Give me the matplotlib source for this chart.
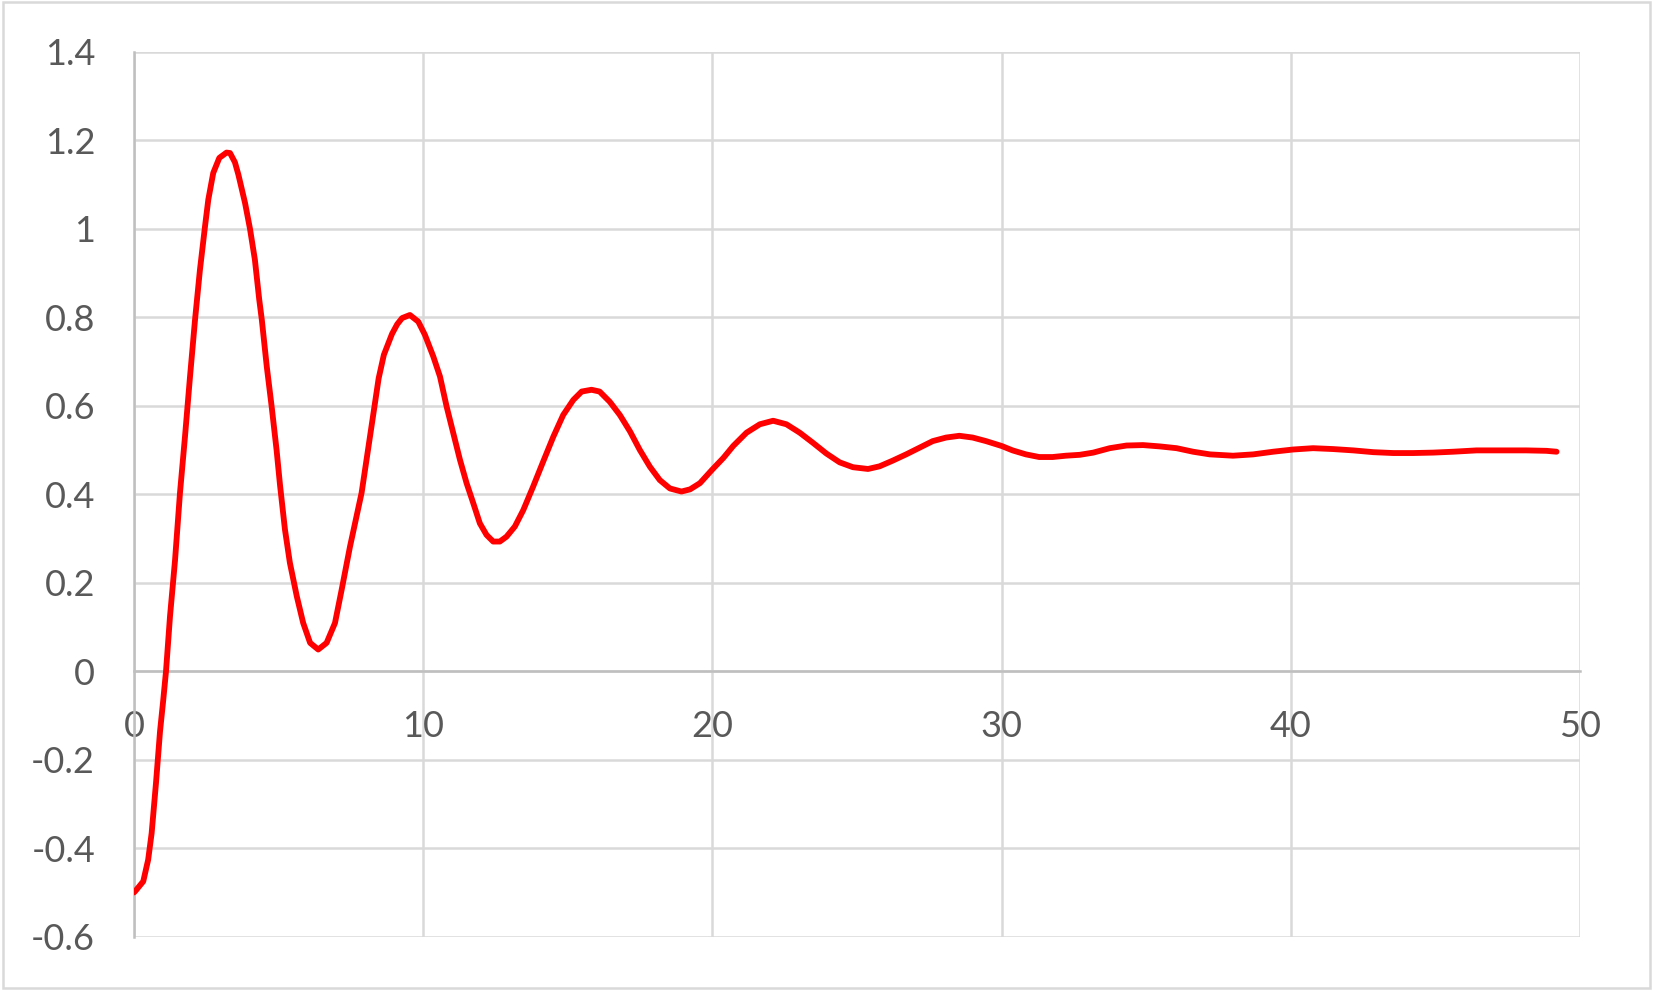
import matplotlib
matplotlib.use("Agg")
import matplotlib.pyplot as plt
from matplotlib.patches import Rectangle

# values
t = [0.00, 0.07, 0.32, 0.49, 0.61, 0.76, 0.90, 1.01, 1.107, 1.245,
     1.418, 1.59, 1.763, 1.936, 2.11, 2.28, 2.455, 2.57, 2.74, 2.95,
     3.20, 3.32, 3.49, 3.61, 3.84, 4.01, 4.18, 4.33, 4.42, 4.59,
     4.76, 4.93, 5.05, 5.22, 5.39, 5.63, 5.85, 6.09, 6.37, 6.66,
     6.95, 7.18, 7.47, 7.87, 8.16, 8.46, 8.64, 8.92, 9.10, 9.27,
     9.54, 9.83, 10.06, 10.35, 10.58, 10.81, 11.04, 11.27, 11.50, 11.73,
     11.96, 12.19, 12.42, 12.65, 12.88, 13.17, 13.46, 13.80, 14.15, 14.50,
     14.84, 15.19, 15.48, 15.82, 16.10, 16.45, 16.80, 17.15, 17.49, 17.84,
     18.18, 18.53, 18.93, 19.23, 19.57, 20.00, 20.38, 20.72, 21.18, 21.64,
     22.10, 22.56, 23.02, 23.48, 23.94, 24.40, 24.86, 25.38, 25.78, 26.24,
     26.70, 27.16, 27.62, 28.08, 28.54, 29.00, 29.46, 30.00, 30.38, 30.84,
     31.30, 31.76, 32.22, 32.70, 33.17, 33.74, 34.32, 34.89, 35.47, 36.05,
     36.62, 37.20, 38.00, 38.70, 39.39, 40.08, 40.77, 41.46, 42.16, 42.85,
     43.54, 44.23, 44.92, 45.61, 46.42, 47.23, 48.15, 48.84, 49.19]
response = [-0.500, -0.495, -0.475, -0.426, -0.366, -0.253, -0.136, -0.066, 0.000, 0.124,
            0.250, 0.403, 0.530, 0.665, 0.794, 0.907, 1.005, 1.066, 1.126, 1.160,
            1.172, 1.171, 1.150, 1.122, 1.058, 1.000, 0.930, 0.840, 0.794, 0.689,
            0.598, 0.500, 0.420, 0.320, 0.245, 0.169, 0.109, 0.064, 0.049, 0.064,
            0.109, 0.184, 0.282, 0.403, 0.530, 0.662, 0.715, 0.762, 0.784, 0.798,
            0.805, 0.790, 0.760, 0.711, 0.666, 0.598, 0.538, 0.478, 0.425, 0.380,
            0.334, 0.308, 0.293, 0.293, 0.304, 0.327, 0.364, 0.417, 0.474, 0.530,
            0.579, 0.613, 0.632, 0.636, 0.632, 0.609, 0.579, 0.542, 0.500, 0.462,
            0.432, 0.413, 0.406, 0.411, 0.425, 0.456, 0.482, 0.509, 0.539, 0.558,
            0.566, 0.558, 0.539, 0.516, 0.492, 0.472, 0.461, 0.457, 0.463, 0.476,
            0.490, 0.505, 0.520, 0.528, 0.532, 0.528, 0.520, 0.509, 0.499, 0.490,
            0.484, 0.484, 0.487, 0.489, 0.494, 0.504, 0.510, 0.511, 0.508, 0.504,
            0.496, 0.490, 0.487, 0.490, 0.496, 0.501, 0.504, 0.502, 0.499, 0.495,
            0.493, 0.493, 0.494, 0.496, 0.499, 0.499, 0.499, 0.498, 0.496]

xticks = [0, 10, 20, 30, 40, 50]
yticks = [-0.6, -0.4, -0.2, 0, 0.2, 0.4, 0.6, 0.8, 1.0, 1.2, 1.4]
ytick_labels = ["-0.6", "-0.4", "-0.2", "0", "0.2", "0.4", "0.6", "0.8", "1", "1.2", "1.4"]

grid_col = "#d9d9d9"
axis_col = "#bfbfbf"
text_col = "#595959"

plt.rcParams['font.family'] = ['Lato', 'DejaVu Sans']

fig = plt.figure(figsize=(16.53, 9.90), dpi=100)
ax = fig.add_axes([134 / 1653, 1 - 936.7 / 990, (1580 - 134) / 1653, (936.7 - 51.7) / 990])

ax.plot(t, response, color="#ff0000", lw=4.2, solid_joinstyle="round",
        solid_capstyle="round", zorder=3)

ax.set_xlim(0, 50)
ax.set_ylim(-0.6, 1.4)
ax.set_xticks(xticks)
ax.set_yticks(yticks)
ax.set_yticklabels(ytick_labels)
ax.grid(True, color=grid_col, lw=1.8)
ax.set_axisbelow(True)

for side in ["top", "right"]:
    ax.spines[side].set_visible(False)
ax.spines["bottom"].set_position(("data", 0))
ax.spines["bottom"].set_color(axis_col)
ax.spines["bottom"].set_linewidth(1.8)
ax.spines["left"].set_color(axis_col)
ax.spines["left"].set_linewidth(1.8)

ax.tick_params(axis="both", length=0, labelsize=26, labelcolor=text_col)
ax.tick_params(axis="x", pad=28)
ax.tick_params(axis="y", pad=28)

# outer chart border
fig.patches.append(Rectangle((0.002, 0.002), 0.996, 0.996, transform=fig.transFigure,
                             fill=False, edgecolor=grid_col, lw=1.8))

fig.savefig("out.png", dpi=100)
